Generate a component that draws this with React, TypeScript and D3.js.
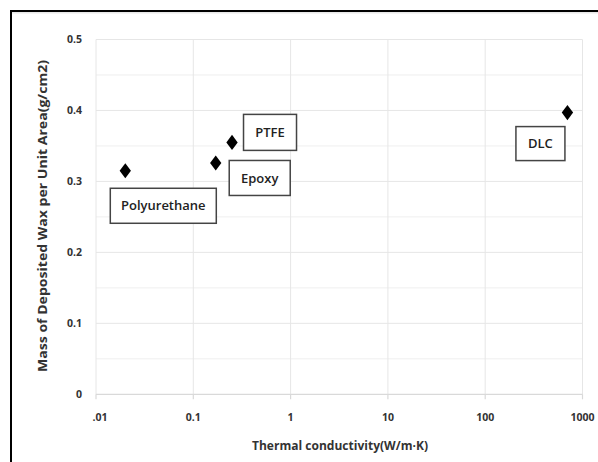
import React from "react";
import * as d3 from "d3";

const materials = ["Polyurethane", "Epoxy", "PTFE", "DLC"];
const conductivity = [0.02, 0.17, 0.25, 700];
const massDeposited = [0.315, 0.326, 0.355, 0.397];
const xTickValues = [0.01, 0.1, 1, 10, 100, 1000];
const xTickLabels = [".01", "0.1", "1", "10", "100", "1000"];
const yTickValues = [0, 0.1, 0.2, 0.3, 0.4, 0.5];
const yTickLabels = ["0", "0.1", "0.2", "0.3", "0.4", "0.5"];
const yMinorValues = [0.05, 0.15, 0.25, 0.35, 0.45];
const xTitle = "Thermal conductivity(W/m·K)";
const yTitle = "Mass of Deposited Wax per Unit Area(g/cm2)";

// label boxes offset relative to point (dx, dy of box center), and box size
const labelOffsets = [
  { dx: 38, dy: 35, w: 106, h: 35 },
  { dx: 44, dy: 15, w: 61, h: 35 },
  { dx: 38, dy: -10, w: 53, h: 36 },
  { dx: -27, dy: 31, w: 49, h: 34 },
];

const W = 598;
const H = 462;
const FONT = "'Open Sans', 'Liberation Sans', sans-serif";

export default function App() {
  const x = d3.scaleLog().domain([0.01, 1000]).range([96, 582.5]);
  const y = d3.scaleLinear().domain([0, 0.5]).range([394.3, 39.5]);
  const diamond = d3.symbol().type(d3.symbolDiamond).size(66)();

  return (
    <svg
      width={W}
      height={H}
      style={{ position: "absolute", left: 0, top: 0, background: "#fff" }}
      fontFamily={FONT}
    >
      <rect x={0} y={0} width={W} height={H} fill="#fff" />
      {/* frame */}
      <line x1={11} x2={W} y1={12.5} y2={12.5} stroke="#e8e8e8" strokeWidth={2} />
      <line x1={10} x2={W} y1={11} y2={11} stroke="#000" strokeWidth={2} />
      <line x1={11} x2={11} y1={10} y2={H} stroke="#000" strokeWidth={2} />

      {/* minor grid */}
      {yMinorValues.map((v) => (
        <line key={"m" + v} x1={x(0.01)} x2={x(1000)} y1={y(v)} y2={y(v)} stroke="#efefef" strokeWidth={1} />
      ))}
      {/* major horizontal grid */}
      {yTickValues.slice(1).map((v) => (
        <line key={"h" + v} x1={x(0.01)} x2={x(1000)} y1={y(v)} y2={y(v)} stroke="#e6e6e6" strokeWidth={1} />
      ))}
      {/* vertical grid */}
      {xTickValues.map((v) => (
        <line key={"v" + v} x1={x(v)} x2={x(v)} y1={y(0.5)} y2={y(0)} stroke="#e6e6e6" strokeWidth={1} />
      ))}
      {/* x axis line + ticks */}
      <line x1={x(0.01)} x2={x(1000)} y1={y(0)} y2={y(0)} stroke="#d9d9d9" strokeWidth={1.2} />
      {xTickValues.map((v) => (
        <line key={"t" + v} x1={x(v)} x2={x(v)} y1={y(0)} y2={y(0) + 5} stroke="#d9d9d9" strokeWidth={1.2} />
      ))}

      {/* y tick labels */}
      {yTickValues.map((v, i) => (
        <text key={"yl" + v} x={82} y={y(v)} dy="0.35em" textAnchor="end" fontSize={10.5} fontWeight="bold" fill="#333">
          {yTickLabels[i]}
        </text>
      ))}
      {/* x tick labels */}
      {xTickValues.map((v, i) => (
        <text key={"xl" + v} x={x(v)} dx={i === 0 ? 4 : 0} y={417} dy="0.35em" textAnchor="middle" fontSize={10.5} fontWeight="bold" fill="#333">
          {xTickLabels[i]}
        </text>
      ))}

      {/* axis titles */}
      <text
        x={340}
        y={446}
        dy="0.35em"
        textAnchor="middle"
        fontSize={11.5}
        fontWeight="bold"
        fill="#333"
        textLength={176}
        lengthAdjust="spacingAndGlyphs"
      >
        {xTitle}
      </text>
      <text
        transform={`translate(43,${216}) rotate(-90)`}
        dy="0.35em"
        textAnchor="middle"
        fontSize={11.5}
        fontWeight="bold"
        fill="#333"
        textLength={312}
        lengthAdjust="spacingAndGlyphs"
      >
        {yTitle}
      </text>

      {/* points */}
      {materials.map((m, i) => (
        <path
          key={"p" + m}
          d={diamond}
          transform={`translate(${x(conductivity[i])},${y(massDeposited[i])}) scale(1.3,1)`}
          fill="#000"
        />
      ))}

      {/* labels */}
      {materials.map((m, i) => {
        const px = x(conductivity[i]);
        const py = y(massDeposited[i]);
        const o = labelOffsets[i];
        const cx = px + o.dx;
        const cy = py + o.dy;
        return (
          <g key={"l" + m}>
            <rect x={cx - o.w / 2} y={cy - o.h / 2} width={o.w} height={o.h} fill="#fff" stroke="#444" strokeWidth={1.5} />
            <text x={cx} y={cy} dy="0.35em" textAnchor="middle" fontSize={13} fill="#222" fontWeight={600}>
              {m}
            </text>
          </g>
        );
      })}
    </svg>
  );
}
